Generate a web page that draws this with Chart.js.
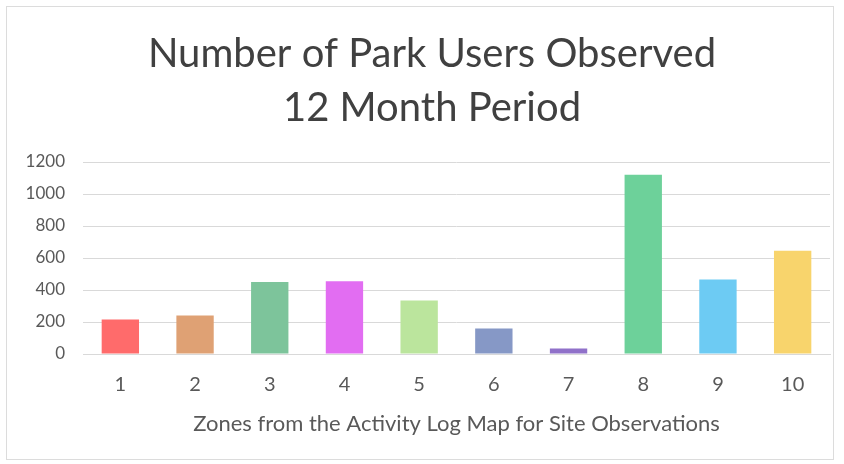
<!DOCTYPE html>
<html>
<head>
<meta charset="utf-8">
<script src="https://cdn.jsdelivr.net/npm/chart.js@4"></script>
<style>
  html, body { margin: 0; padding: 0; background: #ffffff; }
  #wrap { position: relative; width: 844px; height: 464px; }
  #frame {
    position: absolute; left: 6px; top: 6px; width: 826px; height: 452px;
    border: 1px solid #dcdcdc; pointer-events: none;
  }
</style>
</head>
<body>
<div id="wrap">
  <canvas id="parkChart" width="844" height="464"></canvas>
  <div id="frame"></div>
</div>
<script>
// zones on the map and users counted in each one
const zones = ['1', '2', '3', '4', '5', '6', '7', '8', '9', '10'];
const userCounts = [215, 240, 450, 455, 335, 160, 35, 1120, 465, 645];
const zoneColors = ['#ff6b6b', '#dfa174', '#7dc49b', '#e26df2', '#bbe59d',
                    '#8698c6', '#9071c9', '#6dd19a', '#6dcbf3', '#f8d46c'];
const titleLines = ['Number of Park Users Observed', '12 Month Period'];
const xTitle = 'Zones from the Activity Log Map for Site Observations';

const fontFamily = 'Lato, "Open Sans", sans-serif';

// the original title sits a bit right of the canvas centre
const shiftTitle = {
    id: 'shiftTitle',
    afterLayout(chart) {
        if (chart.titleBlock) chart.titleBlock.left += 34;
    }
};

const ctx = document.getElementById('parkChart').getContext('2d');
new Chart(ctx, {
    type: 'bar',
    data: {
        labels: zones,
        datasets: [{
            data: userCounts,
            backgroundColor: zoneColors,
            borderWidth: 0,
            categoryPercentage: 1,
            barPercentage: 0.5
        }]
    },
    plugins: [shiftTitle],
    options: {
        responsive: false,
        animation: false,
        layout: {
            padding: { left: 0, right: 14, top: 12, bottom: 25 }
        },
        plugins: {
            legend: { display: false },
            tooltip: { enabled: false },
            title: {
                display: true,
                text: titleLines,
                color: '#404040',
                font: { family: fontFamily, size: 40, weight: 'normal', lineHeight: 1.35 },
                padding: { top: 15, bottom: 27 }
            }
        },
        scales: {
            x: {
                grid: { display: false, drawTicks: false },
                border: { display: true, color: '#d9d9d9' },
                ticks: {
                    color: '#595959',
                    padding: 21,
                    font: { family: fontFamily, size: 20, lineHeight: 1 }
                },
                title: {
                    display: true,
                    text: xTitle,
                    color: '#595959',
                    padding: { top: -3, bottom: 4 },
                    font: { family: fontFamily, size: 22, lineHeight: 1 }
                }
            },
            y: {
                min: 0,
                max: 1200,
                afterFit: scale => { scale.width = 83; },
                grid: { color: '#d9d9d9', drawTicks: false },
                border: { display: false },
                ticks: {
                    stepSize: 200,
                    color: '#595959',
                    padding: 18,
                    font: { family: fontFamily, size: 17 },
                    callback: value => String(value)
                }
            }
        }
    }
});
</script>
</body>
</html>
